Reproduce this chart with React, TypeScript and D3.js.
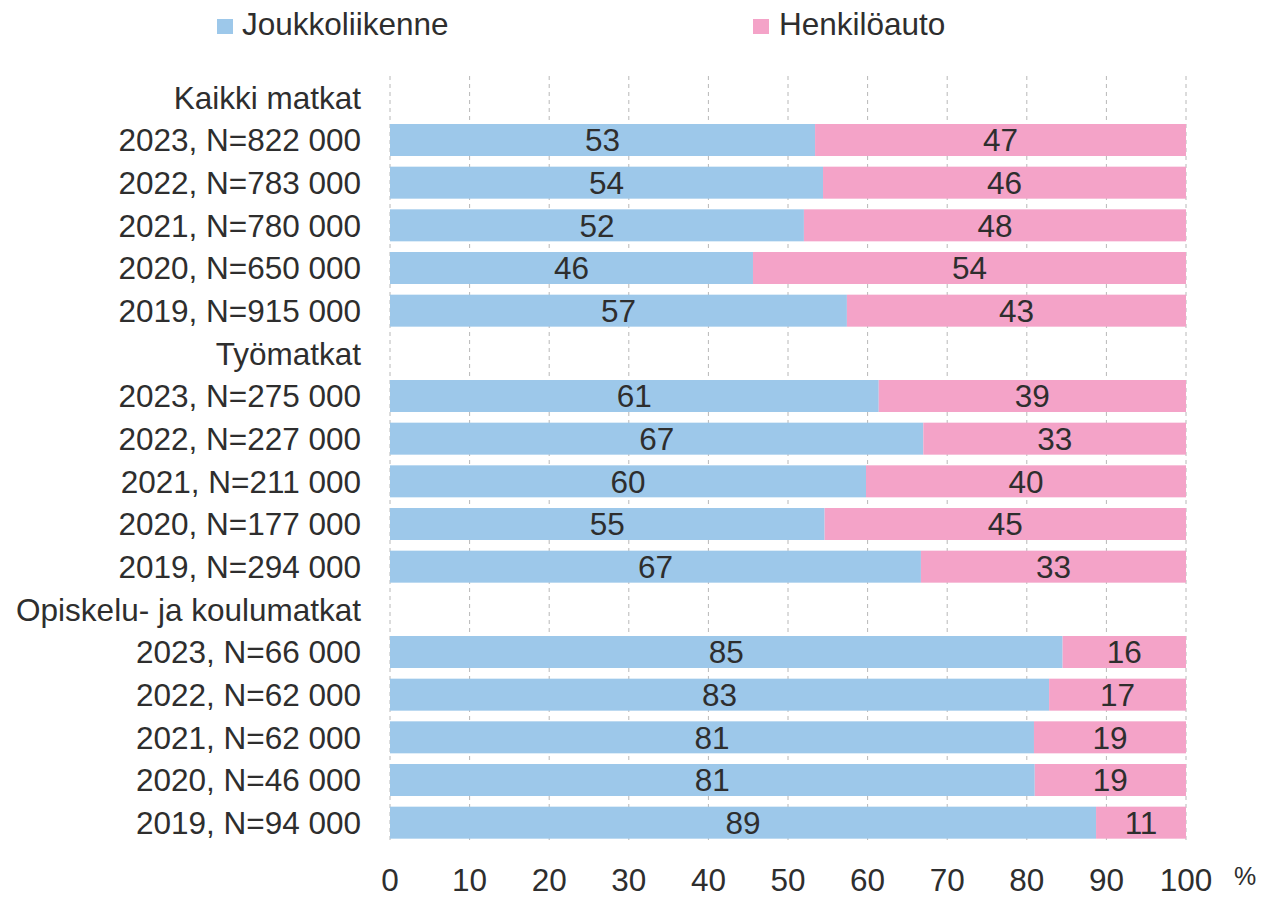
import React, {useRef, useEffect} from "react"
import * as d3 from "d3"

const groups = ["Kaikki matkat", "Työmatkat", "Opiskelu- ja koulumatkat"]
const years = [
    ["2023, N=822 000", "2022, N=783 000", "2021, N=780 000", "2020, N=650 000", "2019, N=915 000"],
    ["2023, N=275 000", "2022, N=227 000", "2021, N=211 000", "2020, N=177 000", "2019, N=294 000"],
    ["2023, N=66 000", "2022, N=62 000", "2021, N=62 000", "2020, N=46 000", "2019, N=94 000"],
]
// share of trips, %
const transit = [
    [53.4, 54.4, 52.0, 45.6, 57.4],
    [61.4, 67.0, 59.8, 54.6, 66.7],
    [84.5, 82.8, 80.9, 81.0, 88.7],
]
const car = [
    [46.6, 45.6, 48.0, 54.4, 42.6],
    [38.6, 33.0, 40.2, 45.4, 33.3],
    [15.5, 17.2, 19.1, 19.0, 11.3],
]
const seriesNames = ["Joukkoliikenne", "Henkilöauto"]
const colors = ["#9dc8ea", "#f4a3c8"]
const ticks = [0, 10, 20, 30, 40, 50, 60, 70, 80, 90, 100]

const FONT = "'Liberation Sans', Arial, sans-serif"
const FS = 31.5
const TEXT = "#2e2e2e"

const Chart = () => {
    let element = useRef(null)

    useEffect(() => {
        const width = 1268, height = 898
        const margin = {top: 76, left: 390, right: 82, bottom: 54}

        const svg = d3.select(element.current)
            .append("svg")
                .attr("width", width)
                .attr("height", height)
                .style("display", "block")
                .style("font-family", FONT)

        // flatten: header row then five year rows per group
        let rows = []
        groups.forEach((g, gi) => {
            rows.push({key: "h" + gi, label: g, header: true})
            years[gi].forEach((y, i) => {
                rows.push({key: gi + "-" + i, label: y, header: false, t: transit[gi][i], c: car[gi][i]})
            })
        })

        const x = d3.scaleLinear()
            .domain([0, 100])
            .range([margin.left, width - margin.right])

        const y = d3.scaleBand()
            .domain(rows.map(r => r.key))
            .range([margin.top, height - margin.bottom])
            .paddingInner(0.25)
            .paddingOuter(0.125)

        // dashed grid
        svg.append("g")
            .selectAll("line")
            .data(ticks)
            .enter()
                .append("line")
                .attr("x1", d => x(d))
                .attr("x2", d => x(d))
                .attr("y1", margin.top)
                .attr("y2", height - margin.bottom - 1)
                .attr("stroke", "#b8b8b8")
                .attr("stroke-width", 1)
                .attr("stroke-dasharray", "4,4")

        const bars = rows.filter(r => !r.header)

        svg.append("g")
            .selectAll("rect")
            .data(bars)
            .enter()
                .append("rect")
                .attr("x", x(0))
                .attr("y", d => y(d.key))
                .attr("width", d => x(d.t) - x(0))
                .attr("height", y.bandwidth())
                .attr("fill", colors[0])

        svg.append("g")
            .selectAll("rect")
            .data(bars)
            .enter()
                .append("rect")
                .attr("x", d => x(d.t))
                .attr("y", d => y(d.key))
                .attr("width", d => x(d.t + d.c) - x(d.t))
                .attr("height", y.bandwidth())
                .attr("fill", colors[1])

        const labels = svg.append("g")
            .attr("font-size", FS)
            .attr("fill", TEXT)

        labels.selectAll(".vt")
            .data(bars)
            .enter()
                .append("text")
                .attr("x", d => x(d.t / 2))
                .attr("y", d => y(d.key) + y.bandwidth() / 2)
                .attr("dy", "0.36em")
                .attr("text-anchor", "middle")
                .text(d => Math.round(d.t))

        labels.selectAll(".vc")
            .data(bars)
            .enter()
                .append("text")
                .attr("x", d => x(d.t + d.c / 2))
                .attr("y", d => y(d.key) + y.bandwidth() / 2)
                .attr("dy", "0.36em")
                .attr("text-anchor", "middle")
                .text(d => Math.round(d.c))

        // category labels
        labels.selectAll(".cat")
            .data(rows)
            .enter()
                .append("text")
                .attr("x", 361)
                .attr("y", d => y(d.key) + y.bandwidth() / 2)
                .attr("dy", "0.36em")
                .attr("text-anchor", "end")
                .text(d => d.label)

        // x axis tick labels
        labels.selectAll(".tick")
            .data(ticks)
            .enter()
                .append("text")
                .attr("x", d => x(d))
                .attr("y", 880)
                .attr("dy", "0.36em")
                .attr("text-anchor", "middle")
                .text(d => d)

        labels.append("text")
            .attr("x", 1245)
            .attr("y", 876)
            .attr("dy", "0.36em")
            .attr("text-anchor", "middle")
            .attr("font-size", 25)
            .text("%")

        // legend
        const legendX = [217, 753]
        const legend = svg.append("g")
            .selectAll("g")
            .data(seriesNames)
            .enter()
                .append("g")
                .attr("transform", (d, i) => "translate(" + legendX[i] + ",0)")

        legend.append("rect")
            .attr("x", 0)
            .attr("y", 19)
            .attr("width", 16)
            .attr("height", 15)
            .attr("fill", (d, i) => colors[i])

        legend.append("text")
            .attr("x", (d, i) => i ? 26 : 25)
            .attr("y", 24)
            .attr("dy", "0.36em")
            .attr("font-size", FS)
            .attr("fill", TEXT)
            .text(d => d)

        return () => {
            if(element.current) {
                element.current.innerHTML = ""
            }
        }
    }, [])

    return (
        <div ref={element} style={{position: "absolute", left: 0, top: 0}}></div>
    )
}

export default function App() {
    return <Chart />
}
